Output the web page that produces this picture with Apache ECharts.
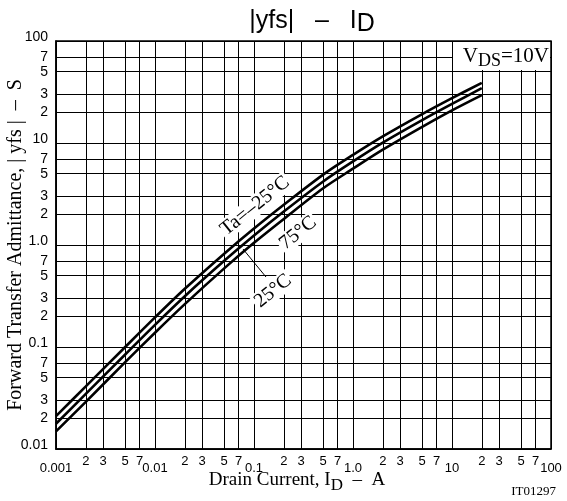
<!DOCTYPE html>
<html><head><meta charset="utf-8">
<script src="https://cdn.jsdelivr.net/npm/echarts@6/dist/echarts.min.js"></script>
<style>html,body{margin:0;padding:0;background:#fff}#c{width:567px;height:501px}</style>
</head><body><div id="c"></div>
<script>
// Drain current (A)
const currents = [0.001,0.002,0.005,0.01,0.02,0.05,0.1,0.2,0.5,1,2,5,10,20];
// |yfs| (S) for Ta = -25°C, 25°C, 75°C
const yfsMinus25 = [0.021,0.0411,0.100,0.195,0.372,0.822,1.45,2.48,4.9,7.64,11.6,19.2,27.5,38.9];
const yfs25      = [0.0177,0.0347,0.0845,0.165,0.315,0.70,1.24,2.13,4.2,6.6,10.1,16.8,24.2,34.5];
const yfs75      = [0.0149,0.029,0.071,0.138,0.263,0.59,1.05,1.8,3.6,5.6,8.6,14.4,20.9,29.5];

const xTicks = [0.001,0.002,0.003,0.005,0.007,0.01,0.02,0.03,0.05,0.07,0.1,0.2,0.3,0.5,0.7,1,2,3,5,7,10,20,30,50,70,100];
const xTickLabels = ['0.001','2','3','5','7','0.01','2','3','5','7','0.1','2','3','5','7','1.0','2','3','5','7','10','2','3','5','7','100'];
const yTicks = [0.01,0.02,0.03,0.05,0.07,0.1,0.2,0.3,0.5,0.7,1,2,3,5,7,10,20,30,50,70,100];
const yTickLabels = ['0.01','2','3','5','7','0.1','2','3','5','7','1.0','2','3','5','7','10','2','3','5','7','100'];

function labelFor(ticks, labels, v) {
  for (let i = 0; i < ticks.length; i++) {
    if (Math.abs(Math.log10(v) - Math.log10(ticks[i])) < 1e-6) {
      const s = labels[i];
      return s.length > 1 ? '{maj|' + s + '}' : '{min|' + s + '}';
    }
  }
  return '';
}

const sans = 'Liberation Sans, Arial, sans-serif';
const serif = 'Liberation Serif, Times New Roman, serif';

const chart = echarts.init(document.getElementById('c'), null, {renderer: 'canvas'});
const lineSeries = (name, data) => ({
  name, type: 'line', symbol: 'none', smooth: 0.3,
  data: currents.map((c, i) => [c, data[i]]),
  lineStyle: {color: '#000', width: 2.6}, z: 3
});

chart.setOption({
  animation: false,
  backgroundColor: '#fff',
  grid: {left: 56, right: 16, top: 41, bottom: 52, outerBoundsMode: 'none', containLabel: false,
         show: true, borderColor: '#000', borderWidth: 1.5, backgroundColor: 'transparent'},
  xAxis: {
    type: 'log', logBase: 10, min: 0.001, max: 100,
    axisLine: {show: true, lineStyle: {color: '#000', width: 1.5}},
    axisTick: {show: false, customValues: xTicks},
    axisLabel: {
      customValues: xTicks, color: '#000', fontFamily: sans, fontSize: 13, margin: 6,
      showMinLabel: true, showMaxLabel: true, hideOverlap: false,
      formatter: v => labelFor(xTicks, xTickLabels, v),
      rich: {maj: {fontFamily: sans, fontSize: 13, color: '#000', padding: [7, 0, 0, 0]}, min: {fontFamily: sans, fontSize: 13, color: '#000'}}
    },
    splitLine: {show: true, lineStyle: {color: '#000', width: 1}}
  },
  yAxis: {
    type: 'log', logBase: 10, min: 0.01, max: 100,
    name: 'Forward Transfer Admittance, | yfs |  –  S', nameLocation: 'middle', nameGap: 30, nameRotate: 90,
    nameMoveOverlap: false,
    nameTextStyle: {fontFamily: serif, fontSize: 20, color: '#000'},
    axisLine: {show: true, lineStyle: {color: '#000', width: 1.5}},
    axisTick: {show: false, customValues: yTicks},
    axisLabel: {
      customValues: yTicks, color: '#000', fontFamily: sans, fontSize: 14, margin: 8,
      showMinLabel: true, showMaxLabel: true, hideOverlap: false,
      formatter: v => labelFor(yTicks, yTickLabels, v),
      rich: {maj: {fontFamily: sans, fontSize: 14, color: '#000', padding: [0, 0, 7, 0]}, min: {fontFamily: sans, fontSize: 14, color: '#000'}}
    },
    splitLine: {show: true, lineStyle: {color: '#000', width: 1}}
  },
  series: [lineSeries('Ta=-25°C', yfsMinus25), lineSeries('25°C', yfs25), lineSeries('75°C', yfs75)],
  graphic: [
    {type: 'text', x: 312, y: 21, z: 10, style: {
      text: '{a||yfs|   –   I}{s|D}', align: 'center', verticalAlign: 'middle',
      rich: {a: {fontFamily: sans, fontSize: 25, fill: '#000'}, s: {fontFamily: sans, fontSize: 25, fill: '#000', padding: [7, 0, 0, 0]}}
    }},
    {type: 'rect', x: 453, y: 42, z: 10, shape: {width: 97, height: 28}, style: {fill: '#fff'}},
    {type: 'text', x: 549, y: 56, z: 11, style: {
      text: '{a|V}{s|DS}{a|=10V}', align: 'right', verticalAlign: 'middle',
      rich: {a: {fontFamily: serif, fontSize: 21, fill: '#000'}, s: {fontFamily: serif, fontSize: 18, fill: '#000', padding: [11, 0, 0, 0]}}
    }},
    {type: 'text', x: 255, y: 206, rotation: 0.68, z: 10, style: {
      text: 'Ta=–25°C', font: '20px ' + serif, fill: '#000', align: 'center', verticalAlign: 'middle', backgroundColor: '#fff', padding: [0, 2, 0, 2]
    }},
    {type: 'text', x: 298, y: 233, rotation: 0.68, z: 10, style: {
      text: '75°C', font: '20px ' + serif, fill: '#000', align: 'center', verticalAlign: 'middle', backgroundColor: '#fff', padding: [0, 2, 0, 2]
    }},
    {type: 'text', x: 273, y: 291, rotation: 0.68, z: 10, style: {
      text: '25°C', font: '20px ' + serif, fill: '#000', align: 'center', verticalAlign: 'middle', backgroundColor: '#fff', padding: [0, 2, 0, 2]
    }},
    {type: 'line', z: 9, shape: {x1: 243, y1: 249, x2: 266, y2: 277}, style: {stroke: '#000', lineWidth: 1}},
    {type: 'text', x: 297, y: 480, z: 10, style: {
      text: '{a|Drain Current, I}{s|D}{a|  –  A}', align: 'center', verticalAlign: 'middle',
      rich: {a: {fontFamily: serif, fontSize: 19, fill: '#000'}, s: {fontFamily: serif, fontSize: 17, fill: '#000', padding: [11, 0, 0, 0]}}
    }},
    {type: 'text', x: 556, y: 492, z: 10, style: {
      text: 'IT01297', font: '13px ' + serif, fill: '#000', align: 'right', verticalAlign: 'middle'
    }}
  ]
});
</script>
</body></html>
